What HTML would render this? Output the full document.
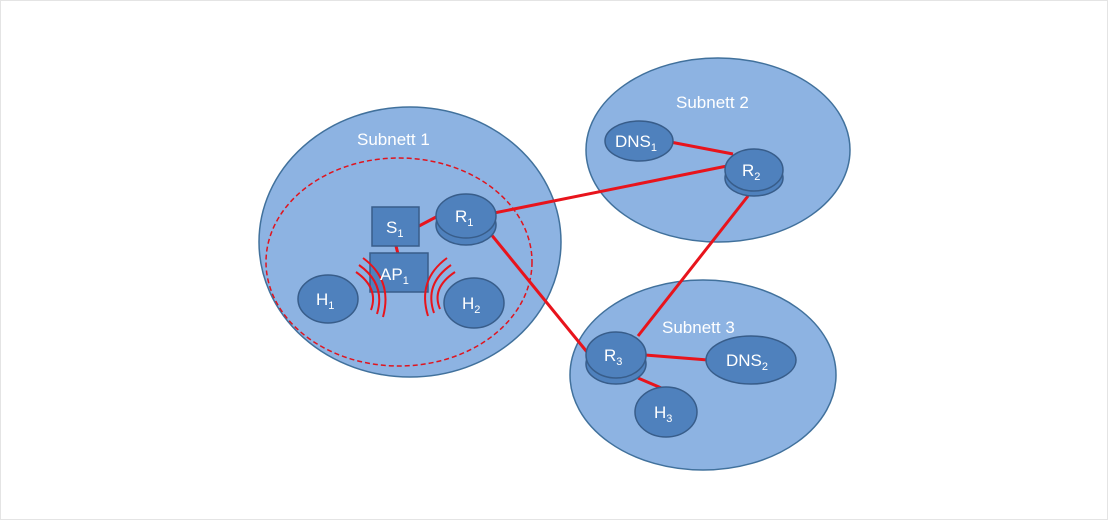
<!DOCTYPE html>
<html><head><meta charset="utf-8"><style>
html,body{margin:0;padding:0;background:#fff;}
svg{display:block;}
text{font-family:"Liberation Sans",sans-serif;fill:#fff;}
</style></head><body>
<svg width="1108" height="520" viewBox="0 0 1108 520">
<rect x="0.5" y="0.5" width="1107" height="519" fill="#fff" stroke="#e4e4e4"/>
<g fill="#8db3e2" stroke="#41719c" stroke-width="1.5">
<ellipse cx="410" cy="242" rx="151" ry="135"/>
<ellipse cx="718" cy="150" rx="132" ry="92"/>
<ellipse cx="703" cy="375" rx="133" ry="95"/>
</g>
<ellipse cx="399" cy="262" rx="133" ry="104" fill="none" stroke="#e0141e" stroke-width="1.5" stroke-dasharray="5,3"/>
<g stroke="#e8141c" stroke-width="3" fill="none">
<line x1="494" y1="213" x2="727" y2="166"/>
<line x1="490" y1="233" x2="587" y2="352"/>
<line x1="748" y1="196" x2="638" y2="336"/>
<line x1="645" y1="355" x2="708" y2="360"/>
<line x1="638" y1="378" x2="666" y2="390"/>
<line x1="665" y1="141" x2="733" y2="154"/>
<line x1="419" y1="226" x2="438" y2="216"/>
<line x1="396" y1="246" x2="398" y2="254"/>
</g>
<g fill="#4f81bd" stroke="#385d8a" stroke-width="1.5">
<rect x="372" y="207" width="47" height="39"/>
<rect x="370" y="253" width="58" height="39"/>
<ellipse cx="328" cy="299" rx="30" ry="24"/>
<ellipse cx="474" cy="303" rx="30" ry="25"/>
<ellipse cx="639" cy="141" rx="34" ry="20"/>
<ellipse cx="751" cy="360" rx="45" ry="24"/>
<ellipse cx="666" cy="412" rx="31" ry="25"/>
<ellipse cx="466" cy="225" rx="30" ry="20"/>
<ellipse cx="466" cy="216" rx="30" ry="22"/>
<ellipse cx="754" cy="178" rx="29" ry="18"/>
<ellipse cx="754" cy="170" rx="29" ry="21"/>
<ellipse cx="616" cy="364" rx="30" ry="20"/>
<ellipse cx="616" cy="355" rx="30" ry="23"/>
</g>
<g stroke="#e8141c" stroke-width="2" fill="none">
<path d="M363 258 Q393 280 383 317"/>
<path d="M359 265 Q386 284 377 314"/>
<path d="M356 272 Q379 288 371 310"/>
<path d="M447 258 Q417 280 428 316"/>
<path d="M451 265 Q424 284 434 313"/>
<path d="M455 272 Q431 288 440 309"/>
</g>
<g font-size="17">
<text x="357" y="145">Subnett 1</text>
<text x="676" y="108">Subnett 2</text>
<text x="662" y="333">Subnett 3</text>
<text x="386" y="233">S<tspan font-size="11" dy="4">1</tspan></text>
<text x="380" y="280">AP<tspan font-size="11" dy="4">1</tspan></text>
<text x="455" y="222">R<tspan font-size="11" dy="4">1</tspan></text>
<text x="742" y="176">R<tspan font-size="11" dy="4">2</tspan></text>
<text x="604" y="361">R<tspan font-size="11" dy="4">3</tspan></text>
<text x="316" y="305">H<tspan font-size="11" dy="4">1</tspan></text>
<text x="462" y="309">H<tspan font-size="11" dy="4">2</tspan></text>
<text x="654" y="418">H<tspan font-size="11" dy="4">3</tspan></text>
<text x="615" y="147">DNS<tspan font-size="11" dy="4">1</tspan></text>
<text x="726" y="366">DNS<tspan font-size="11" dy="4">2</tspan></text>
</g>
</svg>
</body></html>
